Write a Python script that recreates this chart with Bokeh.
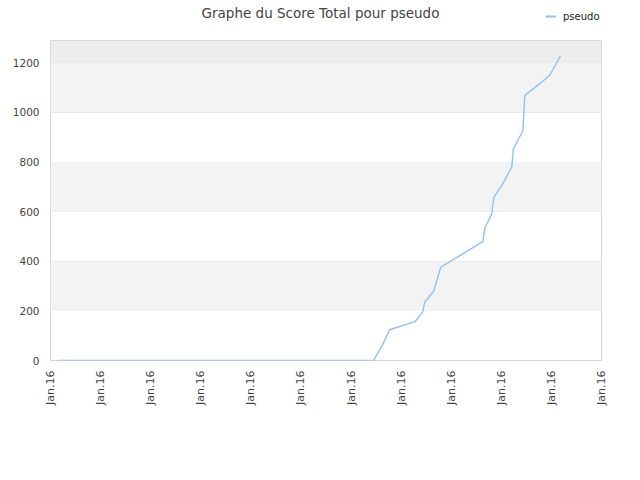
import math
from bokeh.plotting import figure
from bokeh.layouts import column
from bokeh.models import (Range1d, FixedTicker, BoxAnnotation, Legend, LegendItem, Label)
from bokeh.embed import file_html
from bokeh.resources import INLINE

# ---- data ----
title_text = "Graphe du Score Total pour pseudo"
series_name = "pseudo"
x_ticks = [0, 1, 2, 3, 4, 5, 6, 7, 8, 9, 10, 11]
x_tick_labels = ["Jan.16"] * 12
y_ticks = [0, 200, 400, 600, 800, 1000, 1200]
x_vals = [0.16, 6.45, 6.63, 6.77, 7.28, 7.43, 7.47, 7.65, 7.79, 8.63, 8.67,
          8.81, 8.85, 9.03, 9.21, 9.24, 9.43, 9.47, 9.52, 9.80, 9.97, 10.18]
y_vals = [0, 0, 64, 124, 157, 195, 235, 279, 376, 479, 534,
          591, 658, 712, 781, 853, 926, 1067, 1077, 1121, 1151, 1228]

FONT = "DejaVu Sans"
LINE_COLOR = "#90c1f1"
LINE_WIDTH = 1.4
W = 632

# ---- header (title + legend); its ranges keep the series out of view ----
head = figure(width=W, height=40, output_backend="svg", toolbar_location=None,
              x_axis_type=None, y_axis_type=None,
              x_range=Range1d(0, 11), y_range=Range1d(5000, 5001),
              min_border_left=50, min_border_right=31, min_border_top=0,
              min_border_bottom=0)
head.outline_line_color = None
head.background_fill_color = "white"
head.border_fill_color = "white"
head.grid.grid_line_color = None
head.add_layout(Label(x=270, y=28, x_units="screen", y_units="screen", text=title_text,
                      text_align="center", text_baseline="middle", text_font=FONT,
                      text_font_size="13.5px", text_color="#444444"))
hr = head.line(x_vals, y_vals, line_color=LINE_COLOR, line_width=2)
head.add_layout(Legend(items=[LegendItem(label=series_name, renderers=[hr])],
                       location=(495, 18), orientation="horizontal",
                       glyph_width=11, glyph_height=12, label_height=12,
                       label_standoff=7, padding=0, spacing=0, margin=0,
                       border_line_color=None, background_fill_alpha=0,
                       label_text_font=FONT, label_text_font_size="10px",
                       label_text_color="#222222"))

# ---- main chart ----
p = figure(width=W, height=432, output_backend="svg", toolbar_location=None,
           x_range=Range1d(0, 11), y_range=Range1d(0, 1290),
           min_border_left=50, min_border_right=31, min_border_top=0,
           min_border_bottom=112)
p.background_fill_color = "white"
p.border_fill_color = "white"
p.outline_line_color = "#d4d4d4"
p.outline_line_width = 1

for lo, hi, col in [(200, 400, "#f3f3f3"), (600, 800, "#f3f3f3"),
                    (1000, 1200, "#f3f3f3"), (1200, None, "#ededed")]:
    p.add_layout(BoxAnnotation(bottom=lo, top=hi, fill_color=col, fill_alpha=1,
                               line_color=None, level="underlay"))

p.xgrid.grid_line_color = None
p.ygrid.grid_line_color = "#dddddd"
p.ygrid.ticker = FixedTicker(ticks=y_ticks)

p.yaxis.ticker = FixedTicker(ticks=y_ticks)
p.xaxis.ticker = FixedTicker(ticks=x_ticks)
p.xaxis.major_label_overrides = {t: lab for t, lab in zip(x_ticks, x_tick_labels)}
p.xaxis.major_label_orientation = math.pi / 2
for ax in (p.xaxis, p.yaxis):
    ax.axis_line_color = None
    ax.major_tick_line_color = None
    ax.minor_tick_line_color = None
    ax.major_tick_in = 0
    ax.major_tick_out = 0
    ax.major_label_text_font = FONT
    ax.major_label_text_color = "#444444"
p.xaxis.major_label_text_font_size = "11px"
p.yaxis.major_label_text_font_size = "10.5px"
p.xaxis.major_label_standoff = 10
p.yaxis.major_label_standoff = 11

p.line(x_vals, y_vals, line_color=LINE_COLOR, line_width=LINE_WIDTH)

layout = column(head, p, spacing=0)
open("out.html", "w").write(file_html(layout, INLINE))
